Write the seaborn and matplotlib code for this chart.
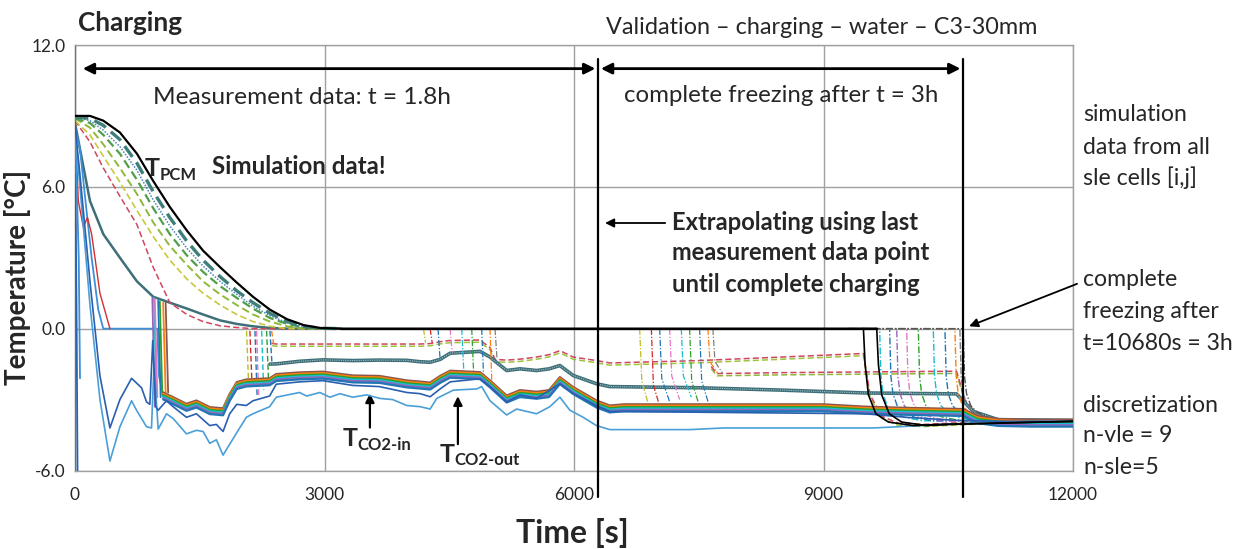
import numpy as np
import matplotlib
matplotlib.use("Agg")
import matplotlib.pyplot as plt
import seaborn as sns
from matplotlib import transforms

# ---------------- data (time in s, temperature in degC) ----------------
COOL_T = [0, 180, 340, 540, 745, 940, 1140, 1345, 1540, 1745, 1945, 2140, 2345, 2550, 2750, 2950, 3200]
COOL_BLACK = [9.0, 9.0, 8.8, 8.3, 7.4, 6.25, 5.15, 4.15, 3.3, 2.6, 1.95, 1.35, 0.8, 0.4, 0.15, 0.03, 0.0]
COOL_TEAL = [8.95, 8.9, 8.6, 8.0, 7.0, 5.8, 4.7, 3.7, 2.9, 2.2, 1.6, 1.1, 0.65, 0.3, 0.1, 0.02, 0.0]
COOL_BLUE = [8.95, 8.8, 8.4, 7.7, 6.7, 5.45, 4.35, 3.4, 2.65, 2.0, 1.45, 0.95, 0.55, 0.25, 0.08, 0.0, 0.0]
COOL_GREEN = [8.9, 8.7, 8.2, 7.4, 6.3, 5.1, 4.0, 3.1, 2.4, 1.8, 1.3, 0.85, 0.45, 0.2, 0.05, 0.0, 0.0]
COOL_OLIVE = [8.9, 8.5, 7.8, 6.8, 5.7, 4.5, 3.5, 2.7, 2.0, 1.45, 1.0, 0.6, 0.3, 0.1, 0.0, 0.0, 0.0]
COOL_YELLOW = [8.8, 8.2, 7.3, 6.2, 5.0, 3.9, 2.9, 2.1, 1.5, 1.0, 0.6, 0.3, 0.1, 0.0, 0.0, 0.0, 0.0]
COOL_RED = [8.8, 7.9, 6.8, 5.6, 4.4, 2.6, 1.1, 0.6, 0.3, 0.12, 0.05, 0.0, 0.0, 0.0, 0.0, 0.0, 0.0]
COOL_SLATE = [8.7, 5.4, 4.0, 3.0, 2.0, 1.35, 1.1, 0.85, 0.6, 0.35, 0.2, 0.1, 0.03, 0.0, 0.0, 0.0, 0.0]

CELL0_T = [0, 60, 120, 200, 280, 340, 990, 1010, 1060]
CELL0_V = [8.5, 7.6, 5.6, 3.0, 0.8, 0.0, 0.0, -2.0, -2.8]
RED_SOLID_T = [0, 40, 100, 150, 200, 300, 420]
RED_SOLID_V = [8.6, 5.4, 4.3, 4.7, 4.0, 1.5, 0.0]
SPIKE_A_T = [0, 20, 32]
SPIKE_A_V = [8.7, 0.0, -7.0]
SPIKE_B_T = [0, 45, 60]
SPIKE_B_V = [8.6, 3.0, -2.1]

# CO2 outlet (lowest, light blue)
LB_T = [0, 60, 180, 300, 420, 540, 680, 740, 860, 920, 950, 1000, 1100, 1180, 1340, 1460, 1540, 1620,
        1700, 1780, 1945, 2060, 2140, 2340, 2420, 2700, 2785, 2945, 3065, 3185, 3340, 3505, 3665, 3820,
        3990, 4150, 4270, 4350, 4550, 4830, 4890, 4990, 5190, 5310, 5430, 5550, 5710, 5830, 5950, 6110,
        6270, 6430, 7400, 7800, 9600, 10200, 10800, 11500, 12000]
LB_V = [8.3, 6.0, 1.0, -3.0, -5.6, -4.15, -3.05, -3.45, -4.15, -4.2, -1.5, -4.25, -3.6, -3.8, -4.45, -4.3,
        -4.35, -4.85, -4.7, -5.35, -4.4, -3.75, -3.6, -3.3, -2.9, -2.7, -2.85, -2.7, -2.9, -2.75, -2.9, -2.8,
        -2.95, -3.0, -3.25, -3.3, -3.4, -2.95, -2.6, -2.55, -2.45, -3.05, -3.65, -3.4, -3.5, -3.6, -3.3, -2.9,
        -3.45, -3.75, -4.1, -4.27, -4.27, -4.2, -4.2, -4.1, -3.98, -3.92, -3.92]
# CO2 inlet (dark blue)
DB_T = [0, 60, 180, 300, 420, 540, 680, 740, 800, 860, 900, 935, 970, 1000, 1100, 1180, 1340, 1460, 1620,
        1700, 1780, 1860, 1945, 2060, 2140, 2340, 2420, 2700, 2980, 3340, 3660, 3990, 4150, 4270, 4390,
        4510, 4870, 4990, 5190, 5350, 5550, 5830, 5990, 6270, 6430, 9500, 10000, 10600, 11200, 12000]
DB_V = [8.6, 6.5, 2.0, -2.0, -4.2, -3.0, -2.1, -2.3, -2.5, -3.1, -3.2, -0.5, -3.3, -3.45, -3.05, -3.3, -3.75,
        -3.6, -4.1, -4.05, -4.35, -3.6, -3.2, -3.25, -3.05, -2.85, -2.35, -2.25, -2.2, -2.4, -2.45, -2.7,
        -2.75, -2.88, -2.55, -2.25, -2.12, -2.45, -3.1, -2.8, -2.95, -2.33, -2.74, -3.25, -3.5, -3.6, -3.75,
        -3.88, -3.92, -3.92]
# frozen cells next to the tubes (thick band)
BU_T = [1060, 1180, 1340, 1460, 1620, 1780, 1860, 1945, 2060, 2340, 2420, 2700, 2980, 3340, 3660, 3990,
        4150, 4270, 4390, 4510, 4870, 4990, 5190, 5350, 5550, 5700, 5830, 5990, 6270, 6430, 6600, 9000,
        9500, 10000, 10680, 10850, 11100, 11500, 12000]
BU_V = [-2.7, -2.9, -3.18, -3.04, -3.32, -3.37, -2.76, -2.26, -2.15, -2.1, -1.92, -1.85, -1.82, -1.98, -2.0,
        -2.19, -2.24, -2.28, -2.0, -1.78, -1.84, -2.19, -2.83, -2.6, -2.67, -2.6, -2.05, -2.47, -3.04, -3.25,
        -3.2, -3.2, -3.3, -3.35, -3.4, -3.7, -3.82, -3.85, -3.85]
# upper frozen level (red / olive dashed)
UP_T = [2364, 2420, 2980, 3660, 4150, 4270, 4390, 4510, 4870, 4990, 5050, 5190, 5350, 5550, 5700, 5830,
        5990, 6270, 6430, 7500, 8500, 9480, 9560, 9700, 9900, 10200, 10800, 12000]
UP_V = [-0.62, -0.65, -0.65, -0.65, -0.65, -0.63, -0.55, -0.5, -0.48, -0.8, -1.3, -1.33, -1.29, -1.2, -1.1,
        -0.93, -1.2, -1.35, -1.45, -1.35, -1.2, -1.05, -2.8, -3.7, -4.0, -4.05, -3.95, -3.9]
# slate-teal frozen level
SL_T = [2344, 2420, 2700, 2980, 3340, 3660, 3990, 4150, 4270, 4390, 4510, 4870, 4990, 5190, 5350, 5550,
        5700, 5830, 5990, 6270, 6430, 7500, 8500, 9500, 10600, 10800, 11100, 12000]
SL_V = [-1.5, -1.49, -1.38, -1.32, -1.35, -1.33, -1.34, -1.4, -1.42, -1.3, -1.04, -0.96, -1.2, -1.77, -1.7,
        -1.77, -1.7, -1.56, -1.98, -2.33, -2.45, -2.5, -2.6, -2.72, -2.76, -3.5, -3.85, -3.88]
# middle red level after 2nd extrapolated freezing wave
MR_T = [7650, 7720, 8500, 9500, 10600, 10700, 10850, 11100, 12000]
MR_V = [-1.6, -1.9, -1.86, -1.83, -1.8, -3.0, -3.65, -3.85, -3.88]

# freezing fronts: time of freezing and temperature reached just after
F1_T = [930, 950, 960, 1000, 1020, 1060, 1090]
F1_FROM = [1.3, 1.3, 1.25, 1.2, 1.15, 1.1, 1.1]
F1_TO = [-3.3, -2.8, -2.9, -2.9, -2.8, -2.7, -2.7]
F2_T = [2063, 2103, 2164, 2184, 2244, 2304, 2344, 2364]
F2_TO = [-2.4, -2.3, -2.8, -2.9, -2.6, -2.4, -1.5, -0.65]
F3_T = [4190, 4270, 4365, 4510, 4650, 4770, 4890, 4990, 5050]
F3_TO = [-0.6, -0.6, -1.3, -1.0, -1.8, -2.0, -2.2, -2.6, -1.3]
F4_T = [6790, 6930, 7030, 7150, 7290, 7390, 7510, 7610, 7670]
F4_MID = [-2.2, -2.4, -2.1, -2.0, -2.0, -2.2, -2.2, -1.4, -1.4]
F4_TO = [-3.4, -3.5, -3.1, -3.0, -2.9, -3.3, -3.3, -1.9, -1.9]
F5_T = [9675, 9795, 9880, 10000, 10140, 10320, 10460, 10580, 10640, 10680]
F5_DT = [0, 15, 40, 90, 170, 300, 520]
F5_V = [0.0, -2.0, -2.75, -3.25, -3.55, -3.75, -3.9]
BK1_T = [9480, 9500, 9540, 9630, 9780, 10080, 10380, 12000]
BK2_T = [9640, 9660, 9700, 9790, 9940, 10240, 10540, 12000]
BK_V = [0.0, -1.5, -2.8, -3.6, -3.95, -4.1, -4.05, -3.92]

X_TICKS = [0, 3000, 6000, 9000, 12000]
Y_TICKS = [-6.0, 0.0, 6.0, 12.0]

# ---------------- figure ----------------
sns.set_theme(style="white")
plt.rcParams['font.family'] = ['Lato', 'DejaVu Sans']
W, H = 1242, 549
fig = plt.figure(figsize=(W / 100, H / 100), dpi=100)
ax = fig.add_axes([75 / W, 1 - 470.5 / H, (1073 - 75) / W, (470.5 - 45) / H])


def fx(x):
    return x / W


def fy(y):
    return 1 - y / H


def off(dy):
    return ax.transData + transforms.ScaledTranslation(0, dy / 72.0, fig.dpi_scale_trans)


def draw(t, v, color, lw=1.0, ls='-', z=2, tr=None):
    kw = {}
    if tr is not None:
        kw['transform'] = tr
    sns.lineplot(x=np.asarray(t, float), y=np.asarray(v, float), ax=ax, color=color, linewidth=lw,
                 linestyle=ls, sort=False, estimator=None, legend=False, zorder=z, **kw)


pal = sns.color_palette("tab10")
blue, orange, green, red, purple, brown, pink, gray, olive, cyan = pal.as_hex()
DASH = (0, (4, 2))
DDOT = (0, (5, 1.5, 1, 1.5))
DOT = (0, (1, 1))

# cooling of PCM cells
draw(COOL_T, COOL_SLATE, '#3f6f78', 1.8, '-', 2)
draw(COOL_T, COOL_RED, '#d0465e', 1.1, DASH, 2)
draw(COOL_T, COOL_YELLOW, '#c9c83a', 1.2, DASH, 2)
draw(COOL_T, COOL_OLIVE, '#8fb83a', 1.4, DASH, 2)
draw(COOL_T, COOL_GREEN, '#4f9f48', 1.6, DASH, 2)
draw(COOL_T, COOL_BLUE, '#4a86b8', 1.1, DOT, 2)
draw(COOL_T, COOL_TEAL, '#3f7f7a', 2.4, DASH, 2)
draw(CELL0_T, CELL0_V, '#3d8fd6', 1.3, '-', 3)
draw(RED_SOLID_T, RED_SOLID_V, '#d03030', 1.0, '-', 3)
draw(SPIKE_A_T, SPIKE_A_V, '#2a62b0', 1.3, '-', 3)
draw(SPIKE_B_T, SPIKE_B_V, '#3d8fd6', 1.3, '-', 3)

# frozen levels
draw(UP_T, UP_V, '#9ec53c', 1.1, DASH, 3, off(-1.6))
draw(UP_T, UP_V, '#d0465e', 1.1, DASH, 3)
draw(MR_T, MR_V, '#8fb83a', 1.1, DASH, 3, off(-1.6))
draw(MR_T, MR_V, '#d0465e', 1.1, DASH, 3)
draw(SL_T, SL_V, '#3e6e78', 2.6, '-', 3)
draw(SL_T, SL_V, '#9fc0c4', 0.8, DOT, 3)

# freezing fronts
fan_cols = [olive, red, blue, pink, cyan, green, blue, orange, gray, purple]
for i, (t, a, b) in enumerate(zip(F1_T, F1_FROM, F1_TO)):
    draw([t, t + 30], [a, b], [purple, cyan, pink, blue, green, orange, brown][i], 1.3, '-', 4)
for i, (t, b) in enumerate(zip(F2_T, F2_TO)):
    draw([t, t + 25], [-0.1, b], fan_cols[i % 10], 1.0, DASH, 4)
for i, (t, b) in enumerate(zip(F3_T, F3_TO)):
    draw([t, t + 25], [0.0, b], fan_cols[i % 10], 0.9, DDOT, 4)
for i, (t, m, b) in enumerate(zip(F4_T, F4_MID, F4_TO)):
    draw([t, t + 25, t + 120], [0.0, m, b], fan_cols[i % 10], 0.9, DDOT, 4)
for i, t in enumerate(F5_T):
    tt = [9300] + [t + d for d in F5_DT] + [12000]
    vv = [0.0] + F5_V + [-3.85]
    draw(tt, vv, [cyan, blue, purple, pink, green, cyan, blue, orange, gray, '#555555'][i], 1.0, DDOT, 4)

# band of frozen cells next to the CO2 tubes
for k, c in enumerate([brown, orange, green, cyan, purple, blue]):
    draw(BU_T, BU_V, c, 1.6, '-', 5, off(-1.0 * k))

# CO2 temperatures
draw(LB_T, LB_V, '#4a9fd8', 1.2, '-', 6)
draw(DB_T, DB_V, '#2a5fb0', 1.2, '-', 6)

# black outer PCM curve and freezing of last cells
draw(COOL_T + [9640], COOL_BLACK + [0.0], 'black', 1.6, '-', 7)
draw(BK1_T, BK_V, 'black', 1.2, '-', 7)
draw(BK2_T, BK_V, 'black', 1.2, '-', 7)
ax.plot([3200, 9640], [0, 0], color='black', lw=1.6, zorder=7)

# ---------------- axes styling ----------------
ax.set_xlim(0, 12000)
ax.set_ylim(-6, 12)
ax.set_xticks(X_TICKS)
ax.set_yticks(Y_TICKS)
ax.set_xticklabels([f"{v:d}" for v in X_TICKS], fontsize=12.5)
ax.set_yticklabels([f"{v:.1f}" for v in Y_TICKS], fontsize=12.5)
ax.grid(True, color='#a0a0a0', lw=1.0, zorder=0)
ax.set_axisbelow(True)
for s in ax.spines.values():
    s.set_color('#a0a0a0')
    s.set_linewidth(1.0)
ax.spines['left'].set_color('#707070')
ax.tick_params(axis='both', length=4, color='#808080', direction='out', pad=3)
ax.tick_params(axis='x', pad=8)
ax.set_xlabel("")
ax.set_ylabel("")

# ---------------- annotations ----------------
for x in (6290, 10680):
    ax.plot([x, x], [11.4, -7.13], color='black', lw=1.6, clip_on=False, zorder=8)
ax.annotate("", xy=(60, 11.0), xytext=(6290, 11.0),
            arrowprops=dict(arrowstyle="<|-|>", color='black', lw=2.0, mutation_scale=16))
ax.annotate("", xy=(6290, 11.0), xytext=(10680, 11.0),
            arrowprops=dict(arrowstyle="<|-|>", color='black', lw=2.0, mutation_scale=16))
ax.annotate("", xy=(6340, 4.47), xytext=(7130, 4.47),
            arrowprops=dict(arrowstyle="-|>", color='black', lw=1.3, mutation_scale=13))
ax.annotate("", xy=(10720, 0.06), xytext=(12080, 1.94), annotation_clip=False,
            arrowprops=dict(arrowstyle="-|>", color='black', lw=1.3, mutation_scale=13))
ax.annotate("", xy=(3546, -2.62), xytext=(3546, -4.3),
            arrowprops=dict(arrowstyle="-|>", color='black', lw=1.6, mutation_scale=13))
ax.annotate("", xy=(4604, -2.74), xytext=(4604, -5.0),
            arrowprops=dict(arrowstyle="-|>", color='black', lw=1.6, mutation_scale=13))

fig.text(fx(78), fy(23), "Charging", weight='bold', size=18.8, va='center', ha='left')
fig.text(fx(822), fy(28), "Validation \u2013 charging \u2013 water \u2013 C3-30mm", size=16.8,
         ha='center', va='center')
fig.text(fx(302), fy(97), "Measurement data: t = 1.8h", size=17.6, ha='center', va='center')
fig.text(fx(781), fy(96), "complete freezing after t = 3h", size=17.3, ha='center', va='center')
fig.text(fx(145), fy(168), "T", weight='bold', size=18, ha='left', va='center')
fig.text(fx(160), fy(175), "PCM", weight='bold', size=12, ha='left', va='center')
fig.text(fx(212), fy(166), "Simulation data!", weight='bold', size=17.4, ha='left', va='center')
for i, s in enumerate(["Extrapolating using last", "measurement data point", "until complete charging"]):
    fig.text(fx(672), fy(222 + 31 * i), s, weight='bold', size=17.1, ha='left', va='center')
fig.text(fx(343), fy(439), "T", weight='bold', size=18, ha='left', va='center')
fig.text(fx(357), fy(445), "CO2-in", weight='bold', size=12, ha='left', va='center')
fig.text(fx(440), fy(454), "T", weight='bold', size=18, ha='left', va='center')
fig.text(fx(454), fy(460), "CO2-out", weight='bold', size=12, ha='left', va='center')
right = [(115, "simulation"), (147, "data from all"), (178, "sle cells [i,j]"),
         (280, "complete"), (312, "freezing after"), (343, "t=10680s = 3h"),
         (405, "discretization"), (436, "n-vle = 9"), (467, "n-sle=5")]
for y, s in right:
    fig.text(fx(1083), fy(y), s, size=16.6, ha='left', va='center')
fig.text(fx(18), fy(277), "Temperature [\u00b0C]", weight='bold', size=20, rotation=90,
         ha='center', va='center')
fig.text(fx(572), fy(533), "Time [s]", weight='bold', size=23, ha='center', va='center')

fig.savefig("out.png", dpi=100)
